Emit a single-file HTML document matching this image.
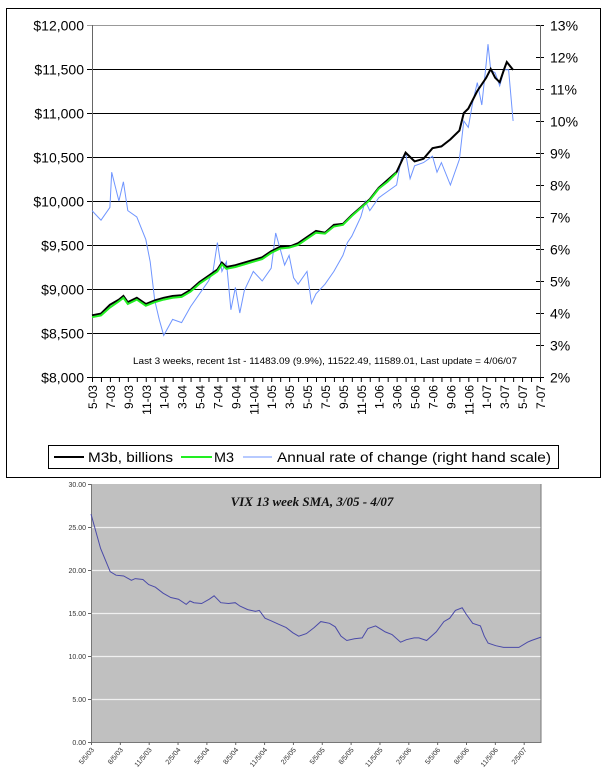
<!DOCTYPE html>
<html><head><meta charset="utf-8"><style>
html,body{margin:0;padding:0;background:#fff;}
svg{display:block;font-family:"Liberation Sans",Arial,sans-serif;}
</style></head><body>
<svg id="root" width="608" height="781" viewBox="0 0 608 781">
<rect x="6.5" y="8.5" width="594" height="469" fill="#fff" stroke="#000"/>
<g id="topchart"></g>
<g id="botchart"></g>
</svg>
<script>
// ---------- Top chart data ----------
const m3bMonths=[0,1,2,3,3.5,4,5,6,7,8,9,10,11,12,13,14,14.5,15,16,17,18,19,20,21,22,23,24,25,26,27,28,29,30,31,32,33,34,35,36,37,38,39,40,41,41.5,42,43,44,44.5,45,45.5,46,46.3,47];
const m3bValues=[8700,8720,8820,8880,8920,8850,8900,8830,8870,8900,8920,8930,8990,9080,9150,9220,9300,9250,9270,9300,9330,9360,9430,9480,9480,9520,9590,9660,9640,9730,9740,9840,9930,10020,10150,10240,10330,10550,10450,10480,10600,10620,10700,10800,11000,11050,11250,11400,11500,11400,11350,11500,11580,11490];
const m3Months=[0,1,2,3,3.5,4,5,6,7,8,9,10,11,12,13,14,14.5,15,16,17,18,19,20,21,22,23,24,25,26,27,28,29,30,31,32,33,34];
const m3Values=[8680,8700,8790,8860,8900,8830,8880,8810,8850,8880,8900,8910,8970,9060,9130,9200,9280,9230,9250,9280,9310,9340,9410,9460,9470,9500,9570,9640,9630,9710,9730,9830,9920,10010,10140,10220,10320];
const rateMonths=[0,1,2,2.2,3,3.5,4,5,6,6.5,7,7.5,8,9,10,11,12,13,13.5,14,14.5,15,15.5,16,16.5,17,18,19,20,20.5,21,21.5,22,22.5,23,24,24.5,25,26,27,28,28.5,29,30,30.5,31,32,33,34,34.5,35,35.5,36,37,38,38.5,39,40,41,41.5,42,42.5,43,43.5,44,44.2,44.5,45,45.5,46,46.5,47];
const rateValues=[7.2,6.9,7.3,8.4,7.5,8.1,7.2,7.0,6.3,5.6,4.4,3.8,3.3,3.8,3.7,4.2,4.6,5.0,5.3,6.2,5.3,5.6,4.1,4.8,4.0,4.7,5.3,5.0,5.4,6.5,6.0,5.5,5.8,5.1,4.9,5.3,4.3,4.6,4.9,5.3,5.8,6.2,6.4,7.0,7.5,7.2,7.6,7.8,8.0,8.8,9.0,8.2,8.6,8.7,8.9,8.4,8.7,8.0,8.8,10.0,9.8,10.6,11.2,10.5,11.8,12.4,11.6,11.5,11.1,11.6,11.6,10.0];
const leftTicks=[8000,8500,9000,9500,10000,10500,11000,11500,12000];
const leftTickLabels=["$8,000","$8,500","$9,000","$9,500","$10,000","$10,500","$11,000","$11,500","$12,000"];
const rightTicks=[2,3,4,5,6,7,8,9,10,11,12,13];
const xLabels=["5-03","7-03","9-03","11-03","1-04","3-04","5-04","7-04","9-04","11-04","1-05","3-05","5-05","7-05","9-05","11-05","1-06","3-06","5-06","7-06","9-06","11-06","1-07","3-07","5-07","7-07"];

// ---------- Bottom chart data ----------
const vixMonths=[0,1,2,2.6,3.4,4.2,4.6,5.4,6,6.7,7.5,8.3,9.1,9.9,10.3,10.7,11.5,12.3,12.8,13.5,14.3,15,15.5,16.3,17.1,17.5,18.1,18.7,19.5,20.3,21,21.6,22.4,23.2,23.9,24.8,25.4,26,26.6,27.4,28.2,28.8,29.6,30.6,31.3,32.2,32.8,33.6,34.1,34.9,35.9,36.7,37.3,37.9,38.6,39,39.7,40.5,40.9,41.3,42.1,42.9,43.7,44.5,45.4,45.8,46.8];
const vixValues=[26.5,22.5,19.8,19.4,19.3,18.8,19.0,18.9,18.3,18.0,17.3,16.8,16.6,16.0,16.4,16.2,16.1,16.6,17.0,16.2,16.1,16.2,15.8,15.4,15.2,15.3,14.4,14.1,13.7,13.3,12.7,12.3,12.6,13.3,14.0,13.8,13.4,12.3,11.8,12.0,12.1,13.2,13.5,12.8,12.5,11.6,11.9,12.1,12.1,11.8,12.8,14.0,14.4,15.3,15.6,14.9,13.8,13.5,12.3,11.5,11.2,11.0,11.0,11.0,11.6,11.8,12.2];
const vixTicks=[0,5,10,15,20,25,30];
const vixTickLabels=["0.00","5.00","10.00","15.00","20.00","25.00","30.00"];
const vixXLabels=["5/5/03","8/5/03","11/5/03","2/5/04","5/5/04","8/5/04","11/5/04","2/5/05","5/5/05","8/5/05","11/5/05","2/5/06","5/5/06","8/5/06","11/5/06","2/5/07"];

const NS="http://www.w3.org/2000/svg";
function mk(parent,tag,attrs,text){const e=document.createElementNS(NS,tag);for(const k in attrs)e.setAttribute(k,attrs[k]);if(text!==undefined)e.textContent=text;parent.appendChild(e);return e;}
function pathFrom(xs,ys,fx,fy){return xs.map((m,i)=>(i?"L":"M")+fx(m).toFixed(1)+","+fy(ys[i]).toFixed(1)).join("");}

// ---------- Top chart ----------
const topG=document.getElementById('topchart');
const X0=92,X1=540,Y0=377,Y1=25;
const tx=m=>X0+(X1-X0)*m/50;
const tyL=v=>Y0+(Y1-Y0)*(v-8000)/4000;
const tyR=v=>Y0+(Y1-Y0)*(v-2)/11;
leftTicks.forEach((v,i)=>{
  const y=tyL(v)+0.5;
  const g=mk(topG,'line',{x1:X0-5,x2:X1,y1:y,y2:y,stroke:i===leftTicks.length-1?'#999':'#000','stroke-width':1});
  
  
  const t=mk(topG,'text',{x:X0-8,y:y+5,'text-anchor':'end','font-size':14,fill:'#000'},leftTickLabels[i]);
  
  
});
rightTicks.forEach(v=>{
  const y=tyR(v)+0.5;
  const l=mk(topG,'line',{x1:X1-4,x2:X1+4,y1:y,y2:y,stroke:'#000'});
  
  
  const t=mk(topG,'text',{x:X1+10,y:y+5,'font-size':14,fill:'#000'},v+'%');
  
  
});
const la=mk(topG,'line',{x1:X0+0.5,x2:X0+0.5,y1:Y1,y2:Y0+1,stroke:'#666'});


const ra=mk(topG,'line',{x1:X1+0.5,x2:X1+0.5,y1:Y1,y2:Y0+1,stroke:'#666'});


for(let m=0;m<=50;m++){
  const x=tx(m)+0.5;
  const l=mk(topG,'line',{x1:x,x2:x,y1:Y0,y2:Y0+5,stroke:'#000'});
  
  
}
xLabels.forEach((s,i)=>{
  const x=tx(i*2)+5;
  const t=mk(topG,'text',{x:0,y:0,'text-anchor':'end','font-size':12,fill:'#000',transform:`translate(${x},${Y0+8}) rotate(-90)`},s);
  
  
});
const bl=mk(topG,'path',{d:pathFrom(rateMonths,rateValues,tx,tyR),fill:'none',stroke:'#6f95ff','stroke-width':1});


const kl=mk(topG,'path',{d:pathFrom(m3bMonths,m3bValues,tx,tyL),fill:'none',stroke:'#000','stroke-width':2});


const gl=mk(topG,'path',{d:pathFrom(m3Months,m3Values,tx,tyL),fill:'none',stroke:'#22ee22','stroke-width':2});


const an=mk(topG,'text',{x:133,y:364,'font-size':9.5,fill:'#000',textLength:384,lengthAdjust:'spacingAndGlyphs'},'Last 3 weeks, recent 1st - 11483.09 (9.9%), 11522.49, 11589.01, Last update = 4/06/07');


// legend
const lg=mk(topG,'g',{});


mk(lg,'rect',{x:48.5,y:445.5,width:510,height:23,fill:'#fff',stroke:'#000'});
const le=[[54,84,'#000',2,88,'M3b, billions',85],[181,212,'#22ee22',2,214,'M3',20],[243,272,'#6f95ff',1,277,'Annual rate of change (right hand scale)',274]];
le.forEach(e=>{
  const g=mk(lg,'g',{});
  
  
  mk(g,'line',{x1:e[0],x2:e[1],y1:457,y2:457,stroke:e[2],'stroke-width':e[3]});
  mk(g,'text',{x:e[4],y:462,'font-size':14,fill:'#000',textLength:e[6],lengthAdjust:'spacingAndGlyphs'},e[5]);
});

// ---------- Bottom chart ----------
const botG=document.getElementById('botchart');
const BX0=91,BX1=541,BY0=742,BY1=484;
const bxf=m=>BX0+(BX1-BX0)*m/46.8;
const byf=v=>BY0+(BY1-BY0)*v/30;
const bg=mk(botG,'rect',{x:BX0,y:BY1,width:BX1-BX0,height:BY0-BY1,fill:'#c0c0c0'});


vixTicks.forEach((v,i)=>{
  const y=byf(v)+0.5;
  if(v>0&&v<30){const g=mk(botG,'line',{x1:BX0,x2:BX1,y1:y,y2:y,stroke:'#f0f0f0','stroke-width':1.2});
  
  }
  const tk=mk(botG,'line',{x1:BX0-3,x2:BX0,y1:y,y2:y,stroke:'#666'});
  
  
  const t=mk(botG,'text',{x:BX0-5,y:y+2.5,'text-anchor':'end','font-size':7,fill:'#333'},vixTickLabels[i]);
  
  
});
const bax=mk(botG,'path',{d:`M${BX0+0.5},${BY1}V${BY0+0.5}H${BX1}V${BY1}`,fill:'none',stroke:'#777'});


vixXLabels.forEach((s,i)=>{
  const x=bxf(i*3)+0.5;
  const tk=mk(botG,'line',{x1:x,x2:x,y1:BY0,y2:BY0+3,stroke:'#666'});
  
  
  const t=mk(botG,'text',{x:0,y:0,'text-anchor':'end','font-size':7,fill:'#333',transform:`translate(${x+3},${BY0+8}) rotate(-50)`},s);
  
  
});
const vl=mk(botG,'path',{d:pathFrom(vixMonths,vixValues,bxf,byf),fill:'none',stroke:'#4a4aa8','stroke-width':1});


const tt=mk(botG,'text',{x:312,y:506,'text-anchor':'middle','font-size':13,'font-weight':'bold','font-style':'italic','font-family':'"Liberation Serif",serif',fill:'#111'},'VIX 13 week SMA, 3/05 - 4/07');


</script>
</body></html>
